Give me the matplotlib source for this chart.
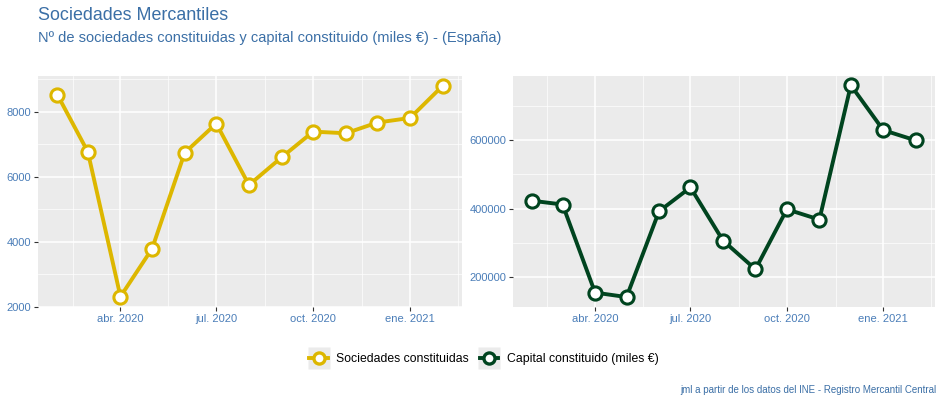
import datetime
import numpy as np
import matplotlib
matplotlib.use('Agg')
import matplotlib.pyplot as plt
import matplotlib.dates as mdates
from matplotlib.lines import Line2D
from matplotlib.legend_handler import HandlerTuple

# monthly data, Feb 2020 - Feb 2021
months = ['2020-02', '2020-03', '2020-04', '2020-05', '2020-06', '2020-07', '2020-08',
          '2020-09', '2020-10', '2020-11', '2020-12', '2021-01', '2021-02']
sociedades = [8530, 6770, 2320, 3790, 6740, 7640, 5750, 6600, 7390, 7340, 7670, 7810, 8800]
capital = [423000, 412000, 155000, 142000, 392000, 462000, 307000, 223000, 398000, 368000,
           760000, 629000, 599000]

tick_months = ['2020-04', '2020-07', '2020-10', '2021-01']
tick_labels = ['abr. 2020', 'jul. 2020', 'oct. 2020', 'ene. 2021']

titulo = 'Sociedades Mercantiles'
subtitulo = 'Nº de sociedades constituidas y capital constituido (miles €) - (España)'
fuente = 'jml a partir de los datos del INE - Registro Mercantil Central'

col_soc = '#DDB700'
col_cap = '#00441F'
txt_blue = '#3B6FA6'
tick_blue = '#4A7DB8'

plt.rcParams['font.family'] = ['Liberation Sans', 'DejaVu Sans']


def to_date(s):
    y, m = s.split('-')
    return datetime.date(int(y), int(m), 1)


x = [to_date(m) for m in months]
xt = [to_date(m) for m in tick_months]
xt_num = mdates.date2num(xt)
step = xt_num[1] - xt_num[0]
minor_x = list(xt_num - step / 2) + [xt_num[-1] + step / 2]


def style_panel(ax, yticks, yminor):
    ax.set_facecolor('#EBEBEB')
    ax.set_xticks(xt_num)
    ax.set_xticklabels(tick_labels)
    ax.set_xticks(minor_x, minor=True)
    ax.set_yticks(yticks)
    ax.set_yticks(yminor, minor=True)
    ax.grid(which='major', color='white', linewidth=1.1)
    ax.grid(which='minor', color='white', linewidth=0.5)
    ax.set_axisbelow(True)
    for sp in ax.spines.values():
        sp.set_visible(False)
    ax.tick_params(which='major', length=3, width=0.8, color='#333333', labelsize=8,
                   labelcolor=tick_blue, pad=2)
    ax.tick_params(which='minor', length=0)


fig = plt.figure(figsize=(9.44, 4.04), dpi=100)
ax1 = fig.add_axes([38 / 944, 1 - 307 / 404, 424 / 944, 231 / 404])
ax2 = fig.add_axes([513 / 944, 1 - 307 / 404, 422 / 944, 231 / 404])

line_kw = dict(linewidth=2.8, marker='o', markersize=9.5, markerfacecolor='white',
               markeredgewidth=2.2)
ax1.plot(x, sociedades, color=col_soc, markeredgecolor=col_soc, **line_kw)
ax2.plot(x, capital, color=col_cap, markeredgecolor=col_cap, **line_kw)

xmin = mdates.date2num(x[0]) - 0.05 * (mdates.date2num(x[-1]) - mdates.date2num(x[0]))
xmax = mdates.date2num(x[-1]) + 0.05 * (mdates.date2num(x[-1]) - mdates.date2num(x[0]))
ax1.set_xlim(xmin, xmax)
ax2.set_xlim(xmin, xmax)

style_panel(ax1, [2000, 4000, 6000, 8000], [3000, 5000, 7000, 9000])
style_panel(ax2, [200000, 400000, 600000], [100000, 300000, 500000, 700000])
ax1.set_ylim(2000, 9100)
ax2.set_ylim(113000, 787000)

fig.text(38 / 944, 1 - 16 / 404, titulo, fontsize=12.9, color=txt_blue, va='center')
fig.text(38 / 944, 1 - 38 / 404, subtitulo, fontsize=10.5, color=txt_blue, va='center')
fig.text(936 / 944, 1 - 390 / 404, fuente, fontsize=7, color=txt_blue, va='center', ha='right')

key_kw = dict(linewidth=2.8, marker='o', markersize=8, markerfacecolor='white',
              markeredgewidth=2.4)
handles = []
for c in [col_soc, col_cap]:
    bg = Line2D([], [], linestyle='none', marker='s', markersize=16,
                markerfacecolor='#EBEBEB', markeredgecolor='none')
    ln = Line2D([], [], color=c, markeredgecolor=c, **key_kw)
    handles.append((bg, ln))
leg = fig.legend(handles, ['Sociedades constituidas', 'Capital constituido (miles €)'],
                 loc='center', bbox_to_anchor=(484 / 944, 1 - 359 / 404), ncol=2, frameon=False,
                 fontsize=8.8, handlelength=1.5, handletextpad=0.7,
                 columnspacing=0.9, handler_map={tuple: HandlerTuple(ndivide=1, pad=0)})

fig.savefig('out.png', dpi=100)
